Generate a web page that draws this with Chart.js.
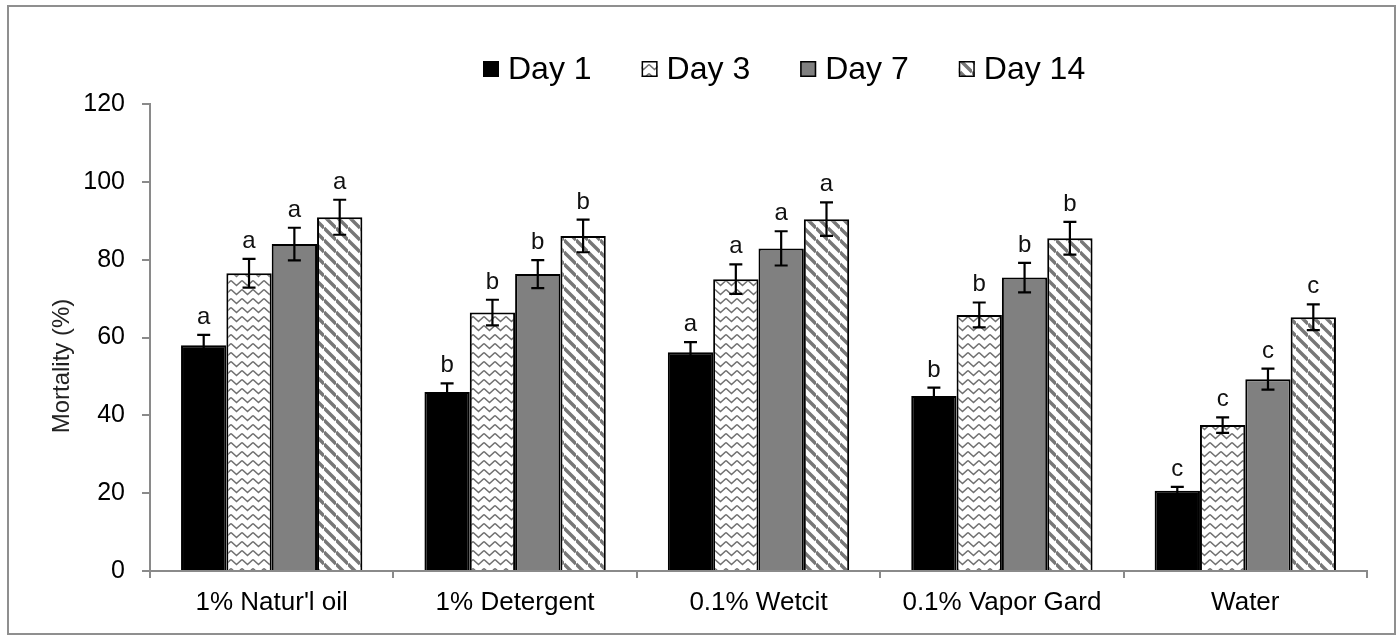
<!DOCTYPE html>
<html>
<head>
<meta charset="utf-8">
<script src="https://cdn.jsdelivr.net/npm/chart.js@4.4.1/dist/chart.umd.min.js"></script>
<style>
  html, body { margin: 0; padding: 0; background: #fff; }
  canvas { display: block; }
</style>
</head>
<body>
<canvas id="mortalityChart" width="1399" height="637"></canvas>
<script>
// data
const treatments = ["1% Natur'l oil", "1% Detergent", "0.1% Wetcit", "0.1% Vapor Gard", "Water"];
const dayLabels = ["Day 1", "Day 3", "Day 7", "Day 14"];
const day1 = [58, 46, 56.2, 45, 20.6];
const day3 = [76.5, 66.4, 75, 65.8, 37.5];
const day7 = [84, 76.3, 82.9, 75.4, 49.3];
const day14 = [90.9, 86.1, 90.4, 85.5, 65.2];
const err1 = [2.7, 2.2, 2.6, 2.1, 1.0];
const err3 = [3.7, 3.3, 3.8, 3.2, 2.0];
const err7 = [4.2, 3.6, 4.4, 3.8, 2.7];
const err14 = [4.5, 4.2, 4.3, 4.2, 3.3];
const letters1 = ['a', 'b', 'a', 'b', 'c'];
const letters3 = ['a', 'b', 'a', 'b', 'c'];
const letters7 = ['a', 'b', 'a', 'b', 'c'];
const letters14 = ['a', 'b', 'a', 'b', 'c'];
const yMin = 0, yMax = 120, yStep = 20;

const FONT = '"Liberation Sans", Arial, sans-serif';

function zigzagPattern() {
    let c = document.createElement('canvas');
    c.width = 11; c.height = 9;
    let g = c.getContext('2d');
    g.fillStyle = '#fff';
    g.fillRect(0, 0, 11, 9);
    g.strokeStyle = '#707070';
    g.lineWidth = 1.6;
    g.beginPath();
    g.moveTo(0, 1.5); g.lineTo(5.5, 6.5); g.lineTo(11, 1.5);
    g.stroke();
    return g.createPattern(c, 'repeat');
}

function diagonalPattern() {
    let s = 12;
    let c = document.createElement('canvas');
    c.width = s; c.height = s;
    let g = c.getContext('2d');
    g.fillStyle = '#fff';
    g.fillRect(0, 0, s, s);
    g.strokeStyle = '#777';
    g.lineWidth = 3.4;
    g.beginPath();
    [-s, 0, s].forEach(function (k) {
        g.moveTo(0, k); g.lineTo(s, s + k);
    });
    g.stroke();
    return g.createPattern(c, 'repeat');
}

// frame round the whole figure
const framePlugin = {
    id: 'frame',
    beforeDraw(chart) {
        let ctx = chart.ctx;
        ctx.save();
        ctx.fillStyle = '#fff';
        ctx.fillRect(0, 0, chart.width, chart.height);
        ctx.strokeStyle = '#8f8f8f';
        ctx.lineWidth = 2;
        ctx.strokeRect(8, 6, 1387, 628);
        ctx.restore();
    }
};

// error bars + significance letters
const errorBarPlugin = {
    id: 'errorBars',
    afterDatasetsDraw(chart) {
        let ctx = chart.ctx;
        let y = chart.scales.y;
        chart.data.datasets.forEach(function (ds, i) {
            let meta = chart.getDatasetMeta(i);
            meta.data.forEach(function (bar, j) {
                let v = ds.data[j], e = ds.errors[j];
                let yTop = y.getPixelForValue(v + e);
                let yBot = y.getPixelForValue(v - e);
                ctx.save();
                ctx.strokeStyle = '#000';
                ctx.lineWidth = 2.2;
                ctx.beginPath();
                ctx.moveTo(bar.x, yTop); ctx.lineTo(bar.x, yBot);
                ctx.moveTo(bar.x - 6.5, yTop); ctx.lineTo(bar.x + 6.5, yTop);
                ctx.moveTo(bar.x - 6.5, yBot); ctx.lineTo(bar.x + 6.5, yBot);
                ctx.stroke();
                ctx.fillStyle = '#111';
                ctx.font = '24px ' + FONT;
                ctx.textAlign = 'center';
                ctx.textBaseline = 'alphabetic';
                ctx.fillText(ds.letters[j], bar.x, yTop - 11);
                ctx.restore();
            });
        });
    }
};

// legend row and rotated y title
const legendPlugin = {
    id: 'topLegend',
    afterDraw(chart) {
        let ctx = chart.ctx;
        ctx.save();
        ctx.font = '32px ' + FONT;
        ctx.textBaseline = 'alphabetic';
        let x = 483;
        chart.data.datasets.forEach(function (ds) {
            ctx.fillStyle = ds.backgroundColor;
            ctx.fillRect(x, 61, 16, 16);
            ctx.strokeStyle = '#000';
            ctx.lineWidth = 1.5;
            ctx.strokeRect(x + 0.75, 61.75, 14.5, 14.5);
            ctx.fillStyle = '#000';
            ctx.fillText(ds.label, x + 25, 79);
            x += 25 + ctx.measureText(ds.label).width + 50;
        });

        ctx.translate(62, 366);
        ctx.rotate(-Math.PI / 2);
        ctx.font = '24px ' + FONT;
        ctx.fillStyle = '#222';
        ctx.textAlign = 'center';
        ctx.textBaseline = 'middle';
        ctx.fillText('Mortality (%)', 0, 0);
        ctx.restore();
    }
};

function makeDataset(label, data, errors, letters, fill) {
    return {
        label: label,
        data: data,
        errors: errors,
        letters: letters,
        backgroundColor: fill,
        borderColor: '#000',
        borderWidth: 2,
        barPercentage: 1.0,
        categoryPercentage: 0.745
    };
}

window.onload = function () {
    let ctx = document.getElementById('mortalityChart').getContext('2d');
    new Chart(ctx, {
        type: 'bar',
        data: {
            labels: treatments,
            datasets: [
                makeDataset(dayLabels[0], day1, err1, letters1, '#000000'),
                makeDataset(dayLabels[1], day3, err3, letters3, zigzagPattern()),
                makeDataset(dayLabels[2], day7, err7, letters7, '#808080'),
                makeDataset(dayLabels[3], day14, err14, letters14, diagonalPattern())
            ]
        },
        options: {
            responsive: false,
            animation: false,
            layout: { padding: { top: 104, right: 32, bottom: 0, left: 0 } },
            plugins: {
                legend: { display: false },
                tooltip: { enabled: false }
            },
            scales: {
                x: {
                    afterFit: function (scale) { scale.height = 66; },
                    grid: { drawOnChartArea: false, offset: true, tickLength: 7, color: '#8a8a8a', lineWidth: 2 },
                    border: { color: '#8a8a8a', width: 2 },
                    ticks: { color: '#000', padding: 9, font: { size: 26, family: FONT } }
                },
                y: {
                    min: yMin,
                    max: yMax,
                    afterFit: function (scale) { scale.width = 150; },
                    grid: { drawOnChartArea: false, tickLength: 8, color: '#8a8a8a', lineWidth: 2 },
                    border: { color: '#8a8a8a', width: 2 },
                    ticks: { stepSize: yStep, color: '#000', padding: 17, font: { size: 25, family: FONT } }
                }
            }
        },
        plugins: [framePlugin, errorBarPlugin, legendPlugin]
    });
}
</script>
</body>
</html>
